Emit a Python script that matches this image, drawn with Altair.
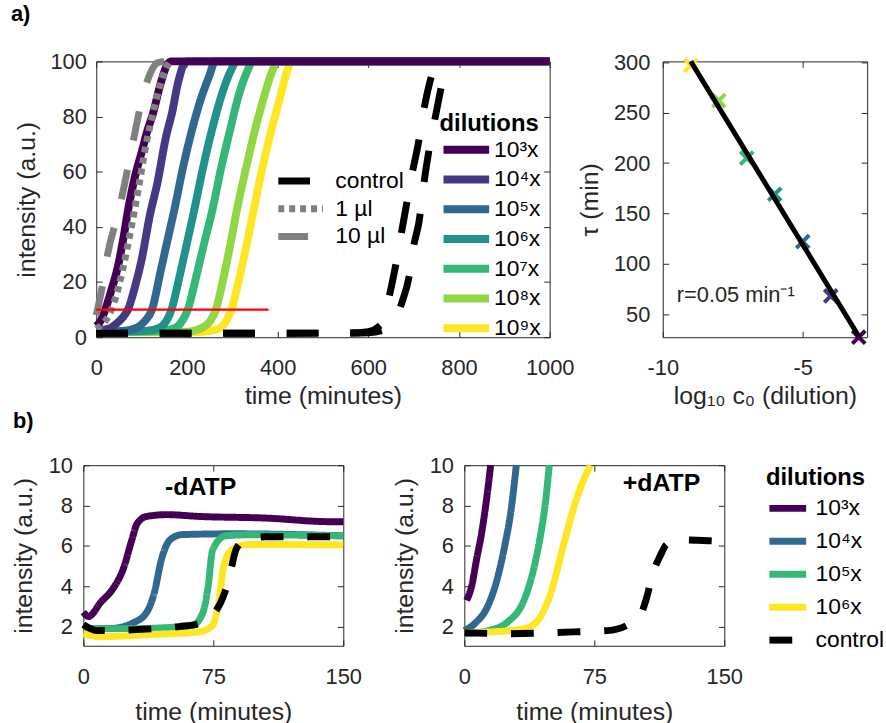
import altair as alt
import pandas as pd

FONT = "Liberation Sans"
DARK = "#262626"

# ---------------- panel a (left): curves ----------------
dil_labels = ["10³x", "10⁴x", "10⁵x", "10⁶x", "10⁷x", "10⁸x", "10⁹x"]
dil_colors = ["#440154", "#443983", "#31688e", "#21918c", "#35b779", "#90d743", "#fde725"]

a_times = [
    [0, 10, 20, 35, 47, 60, 70, 85, 100, 113, 125, 142, 157, 165, 1000],
    [0, 25, 45, 60, 70, 85, 100, 118, 135, 153, 168, 180, 193, 200, 1000],
    [0, 60, 90, 108, 123, 142, 157, 172, 192, 211, 230, 250, 262, 1000],
    [0, 110, 140, 155, 166, 185, 200, 216, 235, 255, 275, 295, 310, 1000],
    [0, 145, 175, 190, 202, 222, 238, 256, 275, 295, 313, 332, 346, 1000],
    [0, 200, 235, 252, 264, 280, 295, 310, 330, 350, 368, 387, 400, 1000],
    [0, 230, 268, 287, 298, 315, 331, 347, 366, 386, 404, 420, 430, 1000],
]
a_vals = [
    [4, 6, 10, 18, 25, 36, 46, 58, 67, 75, 81, 92, 99, 100, 100],
    [2.5, 3, 5, 7.5, 10, 18, 28, 44, 56, 72, 82, 92, 99, 100, 100],
    [2, 2.3, 3.5, 6, 10, 24, 35, 46, 62, 75, 86, 95, 100, 100],
    [2, 2.3, 3.5, 6, 10, 23, 34, 46, 61, 75, 87, 96, 100, 100],
    [2, 2.3, 3.5, 6, 10, 23, 34, 46, 61, 75, 87, 96, 100, 100],
    [1.8, 2, 3.5, 6, 10, 21, 33, 46, 61, 75, 86, 96, 100, 100],
    [1.8, 1.9, 3, 6, 10, 21, 33, 46, 61, 75, 86, 96, 100, 100],
]

style_labels = ["control", "1 µl", "10 µl"]
style_colors = ["#000000", "#808080", "#808080"]
style_dash = [[32, 32], [6, 5], [30, 30]]

ctrl1_t = [0, 560, 600, 620, 632, 645, 658, 670, 682, 695, 710, 722, 735, 750]
ctrl1_v = [1.4, 1.5, 2, 3.5, 5.6, 14, 24, 35, 46, 58, 70, 82, 92, 100]
ctrl2_t = [0, 560, 600, 640, 660, 675, 690, 700, 712, 722, 734, 748, 760, 772]
ctrl2_v = [1.4, 1.5, 1.6, 3, 7, 13, 22, 33, 42, 55, 68, 80, 90, 100]
ul1_t = [0, 15, 28, 40, 59, 75, 92, 110, 125, 140, 155, 162]
ul1_v = [3, 5, 8, 13, 25, 38, 53, 70, 81, 91, 98, 100]
ul10_t = [0, 14, 25, 50, 73, 90, 102, 120, 135, 150]
ul10_v = [8, 19, 30, 46, 64, 78, 87, 96, 99.5, 100]

red_t = [0, 380]
red_v = [10, 10]

# ---------------- panel a (right): tau vs log10 c0 ----------------
logc = [-9, -8, -7, -6, -5, -4, -3]
tau = [297, 262, 205, 169, 122, 68, 27]
tau_labels = ["10⁹x", "10⁸x", "10⁷x", "10⁶x", "10⁵x", "10⁴x", "10³x"]
fit_x = [-9, -3]
fit_y = [301, 28]
rate_text = ["r=0.05 min⁻¹"]
rate_pos = [(-9.5, 69)]

# ---------------- panel b ----------------
b_series = ["10³x", "10⁴x", "10⁵x", "10⁶x", "control"]
b_colors = ["#440154", "#31688e", "#35b779", "#fde725", "#000000"]
b_dash = [[1, 0], [1, 0], [1, 0], [1, 0], [23, 24]]

bl_t = [
    [0, 3, 10, 17, 23, 28, 31, 36.5, 48, 67, 105, 143, 150],
    [0, 15, 29, 36.5, 41, 45, 50, 57, 86, 150],
    [0, 29, 63, 69, 72, 74.6, 82, 95, 150],
    [0, 10, 37, 67, 74.6, 78.4, 81, 86, 95.6, 150],
    [0, 8, 30, 55.5, 67, 78.4, 84, 88, 91.8, 105, 150],
]
bl_v = [
    [2.72, 2.5, 3.2, 3.87, 4.85, 6.3, 7.1, 7.46, 7.55, 7.46, 7.38, 7.2, 7.2],
    [1.9, 1.9, 2.2, 2.7, 3.7, 5.3, 6.3, 6.56, 6.6, 6.5],
    [1.9, 1.9, 2.06, 2.7, 4.0, 5.8, 6.5, 6.55, 6.5],
    [1.65, 1.5, 1.6, 1.74, 2.07, 3.37, 5.0, 5.83, 6.07, 6.05],
    [2.1, 1.8, 1.85, 2.0, 2.15, 3.05, 4.36, 5.8, 6.2, 6.45, 6.45],
]
br_t = [
    [1.3, 4.2, 7, 10, 12.8, 15.2],
    [0, 6, 13.7, 19.4, 23.3, 27, 30],
    [0, 13.7, 25, 34.7, 40.4, 44.2, 47, 49],
    [0, 15.6, 34.7, 42.4, 50, 57.6, 63.3, 68, 72.8],
    [0, 25, 63, 82.4, 94, 101.5, 105, 109, 113, 116.7, 124.4, 145, 150],
]
br_v = [
    [3.3, 4.0, 5.3, 6.65, 8.3, 10],
    [1.8, 2.15, 3.05, 4.5, 6.0, 7.8, 10],
    [1.65, 1.8, 2.23, 3.37, 5.0, 6.65, 8.3, 10],
    [1.7, 1.74, 1.9, 2.3, 3.7, 6.16, 7.95, 9.1, 10],
    [1.7, 1.65, 1.74, 1.8, 2.07, 2.55, 3.37, 4.7, 5.5, 6.07, 6.3, 6.24, 6.22],
]
bl_text = ["-dATP"]
bl_text_pos = [(67.7, 8.93)]
br_text = ["+dATP"]
br_text_pos = [(113.8, 9.12)]

# ---------------- tables ----------------
rows = []
for lab, ts, vs in reversed(list(zip(dil_labels, a_times, a_vals))):
    for i, (t, v) in enumerate(zip(ts, vs)):
        rows.append({"dil": lab, "t": t, "v": v, "i": i})
df_a = pd.DataFrame(rows)

rows = []
for style, rep, ts, vs in [("1 µl", "u1", ul1_t, ul1_v), ("10 µl", "u10", ul10_t, ul10_v),
                           ("control", "c1", ctrl1_t, ctrl1_v), ("control", "c2", ctrl2_t, ctrl2_v)]:
    for i, (t, v) in enumerate(zip(ts, vs)):
        rows.append({"style": style, "rep": rep, "t": t, "v": v, "i": i})
df_s = pd.DataFrame(rows)
df_red = pd.DataFrame({"t": red_t, "v": red_v})

df_pts = pd.DataFrame({"x": logc, "y": tau, "dil": tau_labels})
df_fit = pd.DataFrame({"x": fit_x, "y": fit_y})
df_rt = pd.DataFrame({"x": [p[0] for p in rate_pos], "y": [p[1] for p in rate_pos], "label": rate_text})


def btable(ts_list, vs_list):
    rows = []
    for s, ts, vs in zip(b_series, ts_list, vs_list):
        for i, (t, v) in enumerate(zip(ts, vs)):
            rows.append({"series": s, "t": t, "v": v, "i": i})
    return pd.DataFrame(rows)


df_bl = btable(bl_t, bl_v)
df_br = btable(br_t, br_v)


def axis(values, title, label_pad, title_pad, grid_dash):
    return alt.Axis(values=values, title=title, labelFont=FONT, labelFontSize=22, labelColor=DARK,
                    labelPadding=label_pad, labelFlush=False, labelOverlap=False, ticks=False, tickSize=0,
                    domain=False, grid=True, gridColor=DARK, gridOpacity=1, gridWidth=1, gridDash=grid_dash,
                    titleFont=FONT, titleFontSize=25, titleFontWeight="normal", titleColor=DARK,
                    titlePadding=title_pad, labelExpr="'' + datum.value")


def legend(title, lx, ly, path, sw, loff, rowpad, tpad=0):
    kw = dict(orient="none", legendX=lx, legendY=ly, direction="vertical", symbolType=path,
              symbolSize=400, symbolStrokeWidth=sw, symbolOpacity=1, labelOffset=loff,
              rowPadding=rowpad, labelFont=FONT, labelFontSize=23, labelColor="black",
              labelLimit=0, padding=0)
    if title:
        kw.update(title=title, titleFont=FONT, titleFontSize=24, titleFontWeight="bold",
                  titleColor="black", titlePadding=tpad)
    else:
        kw["title"] = None
    return alt.Legend(**kw)


# ---------------- panel a left ----------------
W_AL, H_A = 457, 278
xa = alt.X("t:Q", scale=alt.Scale(domain=[0, 1000], nice=False, zero=False),
           axis=axis([0, 200, 400, 600, 800, 1000], "time (minutes)", 21, 5, [6, H_A - 12, 6, 1000]))
ya = alt.Y("v:Q", scale=alt.Scale(domain=[0, 100], nice=False),
           axis=axis([0, 20, 40, 60, 80, 100], "intensity (a.u.)", 10, 11, [6, W_AL - 12, 6, 1000]))

leg_dil = legend("dilutions", 346, 51, "M-1,0H3.6", 8, 27, -2.3, 0)
leg_sty = legend(None, 180, 107, "M-1,0H3.5", 7, 34, -2.0)

la1 = alt.Chart(df_a).mark_line(strokeWidth=8, strokeCap="butt", interpolate="monotone").encode(
    x=xa, y=ya,
    color=alt.Color("dil:N", scale=alt.Scale(domain=dil_labels, range=dil_colors), legend=leg_dil),
    order=alt.Order("i:Q"),
)
la2 = alt.Chart(df_s).mark_line(strokeWidth=7, strokeCap="butt", interpolate="monotone").encode(
    x=xa, y=ya,
    color=alt.Color("style:N", scale=alt.Scale(domain=style_labels, range=style_colors), legend=leg_sty),
    strokeDash=alt.StrokeDash("style:N", scale=alt.Scale(domain=style_labels, range=style_dash), legend=leg_sty),
    detail="rep:N",
    order=alt.Order("i:Q"),
)
la3 = alt.Chart(df_red).mark_line(color="#ff0000", strokeWidth=2.5).encode(x=xa, y=ya)

title_a = alt.TitleParams(text="a)", anchor="start", frame="group", dx=-86, offset=20,
                          font=FONT, fontSize=22, fontWeight="bold", color="black")
a_left = alt.layer(la1, la2, la3).resolve_scale(color="independent", strokeDash="independent").properties(
    width=W_AL, height=H_A, title=title_a)

# ---------------- panel a right ----------------
W_AR = 206
xr = alt.X("x:Q", scale=alt.Scale(domain=[-10, -2.7], nice=False, zero=False),
           axis=axis([-10, -5], "log₁₀ c₀ (dilution)", 21, 5, [6, H_A - 12, 6, 1000]))
yr = alt.Y("y:Q", scale=alt.Scale(domain=[27, 301], nice=False, zero=False),
           axis=axis([50, 100, 150, 200, 250, 300], "τ (min)", 13, 11, [6, W_AR - 12, 6, 1000]))

ar1 = alt.Chart(df_pts).mark_point(shape="M-1,-1L1,1M-1,1L1,-1", size=169, strokeWidth=4, filled=False,
                                   opacity=1).encode(
    x=xr, y=yr,
    color=alt.Color("dil:N", scale=alt.Scale(domain=dil_labels, range=dil_colors), legend=None),
)
ar2 = alt.Chart(df_fit).mark_line(color="black", strokeWidth=5).encode(x=xr, y=yr)
ar3 = alt.Chart(df_rt).mark_text(align="left", baseline="middle", font=FONT, fontSize=22, color=DARK).encode(
    x=xr, y=yr, text="label:N")
a_right = alt.layer(ar1, ar2, ar3).properties(width=W_AR, height=H_A)

# ---------------- panel b ----------------
W_B, H_B = 262, 182


def bpanel(df, texts, pos, show_legend, title=None):
    xb = alt.X("t:Q", scale=alt.Scale(domain=[0, 150], nice=False, zero=False),
               axis=axis([0, 75, 150], "time (minutes)", 21, 12, [6, H_B - 12, 6, 1000]))
    yb = alt.Y("v:Q", scale=alt.Scale(domain=[1.05, 10], nice=False, zero=False),
               axis=axis([2, 4, 6, 8, 10], "intensity (a.u.)", 11, 12, [6, W_B - 12, 6, 1000]))
    if show_legend:
        lg = legend("dilutions", 304, 1, "M-1,0H2.7", 7, 23, 4.2, 5)
    else:
        lg = None
    col = alt.Color("series:N", scale=alt.Scale(domain=b_series, range=b_colors), legend=lg)
    dash = alt.StrokeDash("series:N", scale=alt.Scale(domain=b_series, range=b_dash), legend=lg)
    l1 = alt.Chart(df[df.series != "control"]).mark_line(strokeWidth=7, strokeCap="butt", interpolate="monotone").encode(
        x=xb, y=yb, color=col, strokeDash=dash, order=alt.Order("i:Q"))
    l2 = alt.Chart(df[df.series == "control"]).mark_line(strokeWidth=7, strokeCap="butt", interpolate="monotone").encode(
        x=xb, y=yb, color=col, strokeDash=dash, order=alt.Order("i:Q"))
    tdf = pd.DataFrame({"t": [p[0] for p in pos], "v": [p[1] for p in pos], "label": texts})
    l3 = alt.Chart(tdf).mark_text(align="center", baseline="middle", font=FONT, fontSize=25,
                                  fontWeight="bold", color="black").encode(x=xb, y=yb, text="label:N")
    ch = alt.layer(l1, l2, l3)
    if title is not None:
        ch = ch.properties(width=W_B, height=H_B, title=title)
    else:
        ch = ch.properties(width=W_B, height=H_B)
    return ch


title_b = alt.TitleParams(text="b)", anchor="start", frame="group", dx=-71, offset=21,
                          font=FONT, fontSize=22, fontWeight="bold", color="black")
b_left = bpanel(df_bl, bl_text, bl_text_pos, False, title_b)
b_right = bpanel(df_br, br_text, br_text_pos, True)

spacer = alt.Chart(pd.DataFrame({"s": [0]})).mark_point(opacity=0).properties(
    width=13, height=10, view=alt.ViewBackground(stroke="transparent"))

inner_top = alt.hconcat(a_left, a_right, spacing=114, bounds="flush").resolve_scale(
    color="independent", strokeDash="independent")
top = alt.hconcat(spacer, inner_top, spacing=0, bounds="flush").resolve_scale(
    color="independent", strokeDash="independent")
bottom = alt.hconcat(b_left, b_right, spacing=122, bounds="flush").resolve_scale(
    color="independent", strokeDash="independent")

chart = alt.vconcat(top, bottom, spacing=0).resolve_scale(
    color="independent", strokeDash="independent").properties(
    padding={"left": 10, "top": -1, "right": 0, "bottom": 0}).configure_view(
    stroke=DARK, strokeWidth=1)

chart.save("out.html", embed_options={"renderer": "svg", "actions": False})
